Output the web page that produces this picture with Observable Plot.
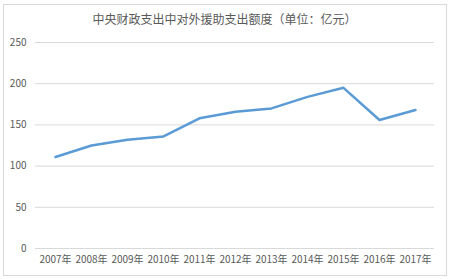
<!DOCTYPE html>
<html><head><meta charset="utf-8">
<script src="https://cdn.jsdelivr.net/npm/d3@7"></script>
<script src="https://cdn.jsdelivr.net/npm/@observablehq/plot@0.6"></script>
<style>
body{margin:0;background:#fff;}
#wrap{position:relative;width:449px;height:279px;}
#border{position:absolute;left:3px;top:4px;width:442px;height:270px;border:1px solid #d9d9d9;}
#title{position:absolute;left:0;top:10px;width:449px;text-align:center;font:12px "Noto Sans CJK SC",sans-serif;color:#595959;}
#chart{position:absolute;left:0;top:0;}
</style></head>
<body>
<div id="wrap"><div id="border"></div><div id="title">中央财政支出中对外援助支出额度（单位：亿元）</div><div id="chart"></div></div>
<script>
const years = ["2007年","2008年","2009年","2010年","2011年","2012年","2013年","2014年","2015年","2016年","2017年"];
const values = [111,125,132,136,158,166,170,184,195,156,168];
const yTicks = [0,50,100,150,200,250];
const data = years.map((y,i)=>({year:y,value:values[i]}));
const chart = Plot.plot({
  width:449, height:279,
  marginTop:42, marginBottom:31, marginLeft:35, marginRight:15,
  style:{fontFamily:'"Noto Sans CJK SC",sans-serif',fontSize:"10px",color:"#595959",background:"transparent"},
  x:{type:"point",domain:years,padding:0.5,label:null,tickSize:0,tickPadding:7},
  y:{domain:[0,250],ticks:yTicks,label:null,tickSize:0,tickPadding:9},
  marks:[
    Plot.ruleY(yTicks,{stroke:"#d9d9d9",strokeWidth:1}),
    Plot.line(data,{x:"year",y:"value",stroke:"#5b9bd5",strokeWidth:2.5,strokeLinejoin:"round"})
  ]
});
document.getElementById("chart").appendChild(chart);
</script>
</body></html>
